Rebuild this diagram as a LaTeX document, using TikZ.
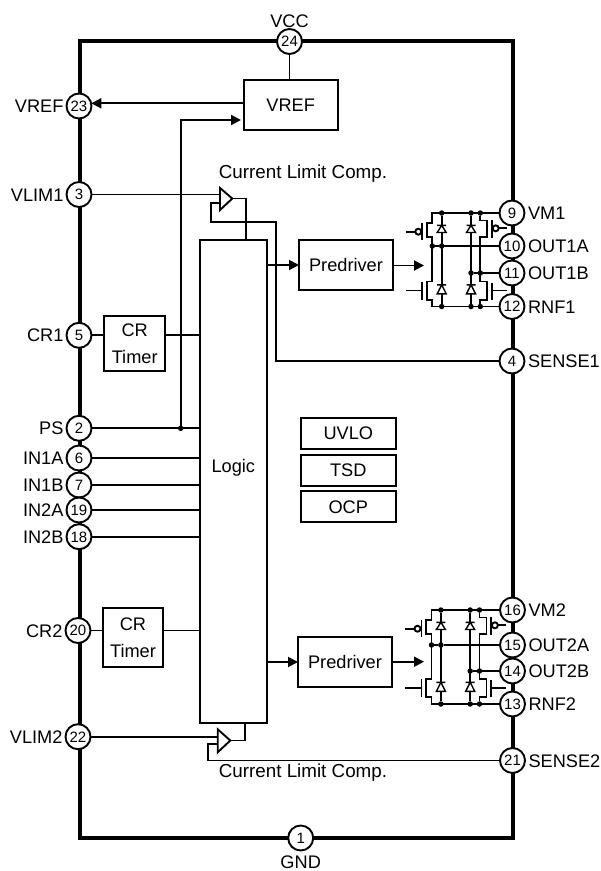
\documentclass[tikz,border=0pt]{standalone}
\usepackage{fontspec}
\setmainfont{Liberation Sans}
\usetikzlibrary{%
  arrows.meta,%
  positioning%
}

% one output stage: name, origin, rail A, rail B, bottom rail
\newcommand{\hbridge}[5]{%
  \begin{scope}[shift={(#2)}]
    \node[dotn] (ta#1) at (9.4,0) {};
    \node[dotn] (tb#1) at (38.7,0) {};
    \node[dotn] (tc#1) at (48,0) {};
    \node[dotn] (aa#1) at (0,#3) {};
    \node[dotn] (ab#1) at (9.4,#3) {};
    \node[dotn] (bb#1) at (38.7,#4) {};
    \node[dotn] (bc#1) at (48,#4) {};
    \node[dotn] (ga#1) at (9.4,#5) {};
    \node[dotn] (gb#1) at (38.7,#5) {};
    \node[dotn] (gc#1) at (48,#5) {};

    \draw[wire] (tc#1) -- (0,0) -- (0,9.7) -- (-5.6,9.7) -- (-5.6,24.3) -- (0,24.3)
       -- (0,#5-25) -- (-5.6,#5-25) -- (-5.6,#5-6.7) -- (0,#5-6.7) -- (0,#5) -- (gc#1);
    \draw[wire] (tc#1) -- (48,7.5) -- (55,7.5) -- (55,24.3) -- (48,24.3)
       -- (48,#5-25) -- (55,#5-25) -- (55,#5-6.7) -- (48,#5-6.7) -- (gc#1);
    \draw[wire] (ta#1) -- (ga#1);
    \draw[wire] (tb#1) -- (gb#1);

    % gates
    \draw[wire] (-10,10) -- (-10,27);
    \draw[wire] (-10,#5-25) -- (-10,#5-6.7);
    \draw[wire] (59.4,7) -- (59.4,25.3);
    \draw[wire] (59.4,#5-23.7) -- (59.4,#5-6.7);
    \draw[wire] (-14,18.7) circle (3);
    \draw[wire] (-17,18.7) -- (-26.5,18.7);
    \draw[wire] (63.4,15.3) circle (3);
    \draw[wire] (66.4,15.3) -- (74.5,15.3);
    \draw[wire] (-10,#5-16) -- (-26.5,#5-16);
    \draw[wire] (59.4,#5-16) -- (74.5,#5-16);

    % diodes
    \draw[diode] (4.9,12.3) -- (13.9,12.3) (9.4,12.3) -- (4.9,19.5) -- (13.9,19.5) -- cycle;
    \draw[diode] (34.2,12.3) -- (43.2,12.3) (38.7,12.3) -- (34.2,19.5) -- (43.2,19.5) -- cycle;
    \draw[diode] (4.9,#5-21.7) -- (13.9,#5-21.7) (9.4,#5-21.7) -- (4.9,#5-12.7) -- (13.9,#5-12.7) -- cycle;
    \draw[diode] (34.2,#5-21.7) -- (43.2,#5-21.7) (38.7,#5-21.7) -- (34.2,#5-12.7) -- (43.2,#5-12.7) -- cycle;
  \end{scope}
}

\begin{document}
\begin{tikzpicture}[x=1pt,y=-1pt]
  \tikzset{chipframe/.style={draw, line width=4pt}}
  \tikzset{wire/.style={draw, line width=1.9pt}}
  \tikzset{diode/.style={draw, line width=1.4pt, fill=white}}
  \tikzset{pointer/.style={draw, line width=1.9pt, -{Triangle[length=10pt,width=10pt]}}}
  \tikzset{pinc/.style={circle, draw, fill=white, line width=1.9pt, minimum size=25pt,
      inner sep=0pt, outer sep=0pt, font=\fontsize{15}{16}\selectfont, text height=10.7pt, text depth=0pt}}
  \tikzset{pinlabel/.style={inner sep=0pt, outer sep=0pt, font=\fontsize{18.2}{20}\selectfont,
      text height=13pt, text depth=0pt}}
  \tikzset{complabel/.style={pinlabel, font=\fontsize{18.8}{20}\selectfont}}
  \tikzset{blockn/.style={rectangle, draw, line width=1.9pt, inner sep=0pt, outer sep=0pt,
      minimum width=94pt, minimum height=50pt, align=center, font=\fontsize{18.2}{27.5}\selectfont}}
  \tikzset{timerb/.style={blockn, minimum width=60.6pt}}
  \tikzset{flagb/.style={blockn, minimum width=94.7pt, minimum height=31pt}}
  \tikzset{dotn/.style={circle, fill, inner sep=0pt, outer sep=0pt, minimum size=5.5pt}}

  \useasboundingbox (0,0) rectangle (601,871);

  \node[minimum width=433pt, minimum height=797pt, chipframe, inner sep=0pt, outer sep=0pt] (chip) at (296,439.3) {};

  % pins
  \node[pinc] (p24) at (289.5,41.5) {24};
  \node[pinc] (p23) at (79,106) {23};
  \node[pinc] (p3) at (79,194.5) {3};
  \node[pinc] (p5) at (79,335.3) {5};
  \node[pinc] (p2) at (79,428.3) {2};
  \node[pinc] (p6) at (79,458) {6};
  \node[pinc] (p7) at (79,485) {7};
  \node[pinc] (p19) at (79,510) {19};
  \node[pinc] (p18) at (79,536.7) {18};
  \node[pinc] (p20) at (78,630.5) {20};
  \node[pinc] (p22) at (78,736.7) {22};
  \node[pinc] (p1) at (300.7,838) {1};
  \node[pinc] (p9) at (512,213) {9};
  \node[pinc] (p10) at (512,246) {10};
  \node[pinc] (p11) at (512,273) {11};
  \node[pinc] (p12) at (512,306.5) {12};
  \node[pinc] (p4) at (512,361) {4};
  \node[pinc] (p16) at (512.5,610) {16};
  \node[pinc] (p15) at (512.5,645) {15};
  \node[pinc] (p14) at (512.5,671) {14};
  \node[pinc] (p13) at (512.5,704) {13};
  \node[pinc] (p21) at (512.5,760.5) {21};

  % pin names
  \node[pinlabel, above=2pt of p24] (l24) {VCC};
  \node[pinlabel, below=4.5pt of p1] (l1) {GND};
  \node[pinlabel, left=3pt of p23] (l23) {VREF};
  \node[pinlabel, left=3pt of p3] (l3) {VLIM1};
  \node[pinlabel, left=3pt of p5] (l5) {CR1};
  \node[pinlabel, left=3pt of p2] (l2) {PS};
  \node[pinlabel, left=3pt of p6] (l6) {IN1A};
  \node[pinlabel, left=3pt of p7] (l7) {IN1B};
  \node[pinlabel, left=3pt of p19] (l19) {IN2A};
  \node[pinlabel, left=3pt of p18] (l18) {IN2B};
  \node[pinlabel, left=3pt of p20] (l20) {CR2};
  \node[pinlabel, left=3pt of p22] (l22) {VLIM2};
  \node[pinlabel, right=3.5pt of p9] (l9) {VM1};
  \node[pinlabel, right=3.5pt of p10] (l10) {OUT1A};
  \node[pinlabel, right=3.5pt of p11] (l11) {OUT1B};
  \node[pinlabel, right=3.5pt of p12] (l12) {RNF1};
  \node[pinlabel, right=3.5pt of p4] (l4) {SENSE1};
  \node[pinlabel, right=3.5pt of p16] (l16) {VM2};
  \node[pinlabel, right=3.5pt of p15] (l15) {OUT2A};
  \node[pinlabel, right=3.5pt of p14] (l14) {OUT2B};
  \node[pinlabel, right=3.5pt of p13] (l13) {RNF2};
  \node[pinlabel, right=3.5pt of p21] (l21) {SENSE2};

  % blocks
  \node[blockn] (vref) at (290.7,105.3) {VREF};
  \node[blockn, minimum width=66.7pt, minimum height=483.3pt] (logic) at (233.3,481.7) {};
  \node[pinlabel] (logictext) at (233.3,466) {Logic};
  \node[blockn] (pred1) at (346,265) {Predriver};
  \node[blockn] (pred2) at (345,662) {Predriver};
  \node[timerb, minimum height=55pt] (timer1) at (134.7,343.5) {CR\\Timer};
  \node[timerb, minimum height=59pt] (timer2) at (133,637.8) {CR\\Timer};
  \node[flagb] (uvlo) at (348.3,433.3) {UVLO};
  \node[flagb, below=6pt of uvlo] (tsd) {TSD};
  \node[flagb, below=5.5pt of tsd] (ocp) {OCP};
  \node[complabel] (comp1) at (303,172) {Current Limit Comp.};
  \node[complabel] (comp2) at (303,770.7) {Current Limit Comp.};

  % supply and reference
  \draw[wire] (p24) -- (vref.north -| p24);
  \coordinate (vrefout) at (243.7,103.3);
  \coordinate (vrefpin) at (91.3,103.3);
  \draw[pointer] (vrefout) -- (vrefpin);
  \node[dotn] (psdot) at (180.7,428.3) {};
  \coordinate (vrefin) at (241,120);
  \draw[pointer] (psdot) |- (vrefin);

  % inputs
  \draw[wire] (p2) -- (p2 -| logic.west);
  \draw[wire] (p6) -- (p6 -| logic.west);
  \draw[wire] (p7) -- (p7 -| logic.west);
  \draw[wire] (p19) -- (p19 -| logic.west);
  \draw[wire] (p18) -- (p18 -| logic.west);
  \draw[wire] (p5) -- (p5 -| timer1.west);
  \draw[wire] (p5 -| timer1.east) -- (p5 -| logic.west);
  \draw[wire] (p20) -- (p20 -| timer2.west);
  \draw[wire] (p20 -| timer2.east) -- (p20 -| logic.west);

  % upper comparator
  \coordinate (cmpa) at (220,188);
  \coordinate (cmpb) at (220,210);
  \coordinate (cmpt) at (232.3,198.5);
  \draw[wire] (p3) -- (p3 -| cmpa);
  \draw[wire] (cmpt) -- (246,198.5) -- (logic.north -| 246,0);
  \draw[wire] (220,203.3) -- (210.7,203.3) -- (210.7,221.7) -- (276,221.7) -- (p4 -| 276,0) -- (p4);
  \draw[wire, fill=white] (cmpa) -- (cmpt) -- (cmpb) -- cycle;

  % lower comparator
  \coordinate (cmpc) at (217.7,729.3);
  \coordinate (cmpd) at (217.7,752.3);
  \coordinate (cmpu) at (230.3,740.5);
  \draw[wire] (p22) -- (p22 -| cmpc);
  \draw[wire] (cmpu) -- (245,740.5) -- (logic.south -| 245,0);
  \draw[wire] (217.7,744.3) -- (208.3,744.3) -- (208.3,760.5) -- (p21);
  \draw[wire, fill=white] (cmpc) -- (cmpu) -- (cmpd) -- cycle;

  % logic to output stages
  \draw[pointer] (pred1.west -| logic.east) -- (pred1.west);
  \draw[pointer] (pred2.west -| logic.east) -- (pred2.west);
  \coordinate (bridgeina) at (424,265.5);
  \coordinate (bridgeinb) at (424,661.7);
  \draw[pointer] (pred1.east |- bridgeina) -- (bridgeina);
  \draw[pointer] (pred2.east |- bridgeinb) -- (bridgeinb);

  \hbridge{A}{432.3,213}{33}{60}{93.5}
  \hbridge{B}{431.5,610}{35}{61}{94}

  \draw[wire] (tcA) -- (p9);
  \draw[wire] (abA) -- (p10);
  \draw[wire] (aaA) -- (abA);
  \draw[wire] (bcA) -- (p11);
  \draw[wire] (bbA) -- (bcA);
  \draw[wire] (gcA) -- (p12);
  \draw[wire] (tcB) -- (p16);
  \draw[wire] (abB) -- (p15);
  \draw[wire] (aaB) -- (abB);
  \draw[wire] (bcB) -- (p14);
  \draw[wire] (bbB) -- (bcB);
  \draw[wire] (gcB) -- (p13);
\end{tikzpicture}
\end{document}
